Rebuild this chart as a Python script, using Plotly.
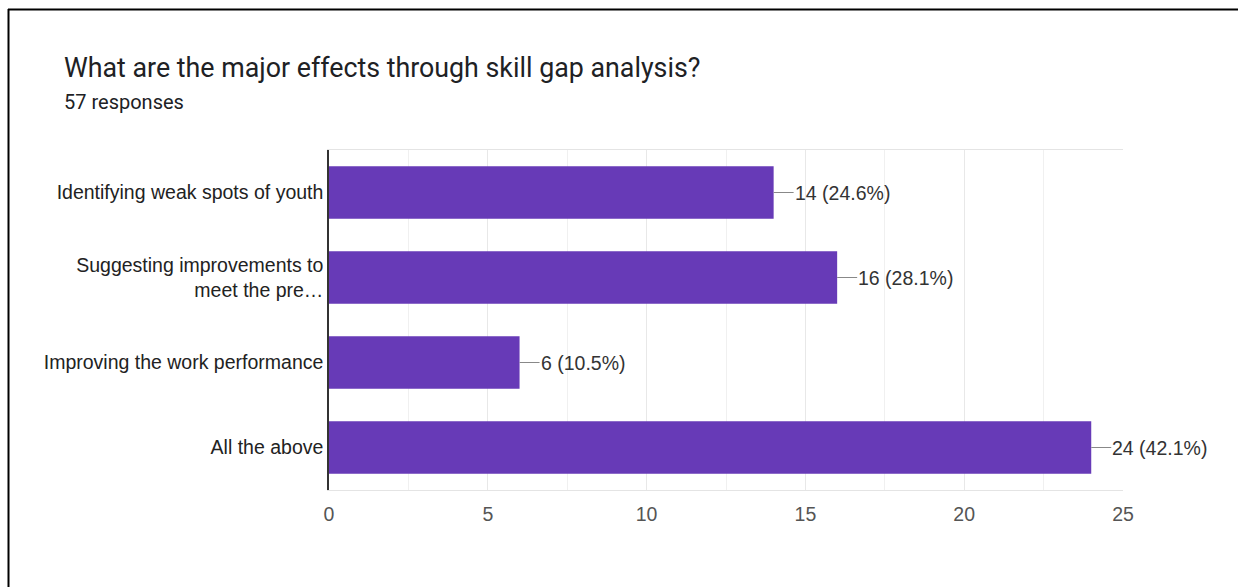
import plotly.graph_objects as go

categories = ["Identifying weak spots of youth",
              "Suggesting improvements to<br>meet the pre…",
              "Improving the work performance",
              "All the above"]
counts = [14, 16, 6, 24]
percents = ["24.6%", "28.1%", "10.5%", "42.1%"]
x_ticks = [0, 5, 10, 15, 20, 25]

W, H = 1238, 587
L, R, T, B = 329, 115, 150, 97
PW, PH = W - L - R, H - T - B


def px(x):
    return (x - L) / PW


def py(y):
    return (H - B - y) / PH


fig = go.Figure()
fig.add_trace(go.Bar(
    y=categories, x=counts, orientation="h",
    marker=dict(color="#673ab7", line=dict(width=0)),
    width=0.62, hoverinfo="skip",
))

for c, v, p in zip(categories, counts, percents):
    fig.add_annotation(
        x=v, y=c, xref="x", yref="y",
        text=f"{v} ({p})", showarrow=True, arrowhead=0, arrowwidth=1,
        arrowcolor="#888888", ax=20, ay=0, xanchor="left", yanchor="middle",
        font=dict(family="Liberation Sans, Arial", size=19.5, color="#333333"),
        borderpad=0,
    )

# title and subtitle
fig.add_annotation(
    x=px(62), y=py(68), xref="paper", yref="paper",
    text="What are the major effects through skill gap analysis?",
    showarrow=False, xanchor="left", yanchor="middle",
    font=dict(family="Roboto, Open Sans", size=26.8, color="#202124"),
)
fig.add_annotation(
    x=px(62), y=py(102), xref="paper", yref="paper",
    text="57 responses",
    showarrow=False, xanchor="left", yanchor="middle",
    font=dict(family="Roboto, Open Sans", size=20, color="#202124"),
)

# frame lines
fig.add_shape(type="line", xref="paper", yref="paper",
              x0=px(8), x1=px(W), y0=py(9.5), y1=py(9.5),
              line=dict(color="black", width=2))
fig.add_shape(type="line", xref="paper", yref="paper",
              x0=px(8.5), x1=px(8.5), y0=py(9), y1=py(H),
              line=dict(color="black", width=2))

fig.update_layout(
    width=W, height=H,
    margin=dict(l=L, r=R, t=T, b=B, autoexpand=False),
    paper_bgcolor="white", plot_bgcolor="white",
    showlegend=False,
    font=dict(family="Liberation Sans, Arial", size=19.5, color="#222222"),
    xaxis=dict(
        range=[0, 25], tickvals=x_ticks, ticktext=[str(t) for t in x_ticks],
        showgrid=True, gridcolor="#e8e8e8", gridwidth=1,
        minor=dict(dtick=2.5, showgrid=True, gridcolor="#f0f0f0", tick0=0),
        zeroline=False, showline=True, linecolor="#e4e4e4", linewidth=1, mirror=True,
        tickfont=dict(family="Liberation Sans, Arial", size=19.5, color="#555555"),
        ticks="outside", ticklen=7, tickcolor="rgba(0,0,0,0)", automargin=False,
    ),
    yaxis=dict(
        autorange="reversed", showgrid=False, zeroline=False,
        showline=True, linecolor="#333333", linewidth=1.5,
        ticks="", ticklabelstandoff=0,
        tickfont=dict(family="Liberation Sans, Arial", size=19.5, color="#222222"),
        automargin=False,
    ),
)

fig.write_html("out.html", config={"displayModeBar": False},
               post_script="document.body.style.margin='0';")
